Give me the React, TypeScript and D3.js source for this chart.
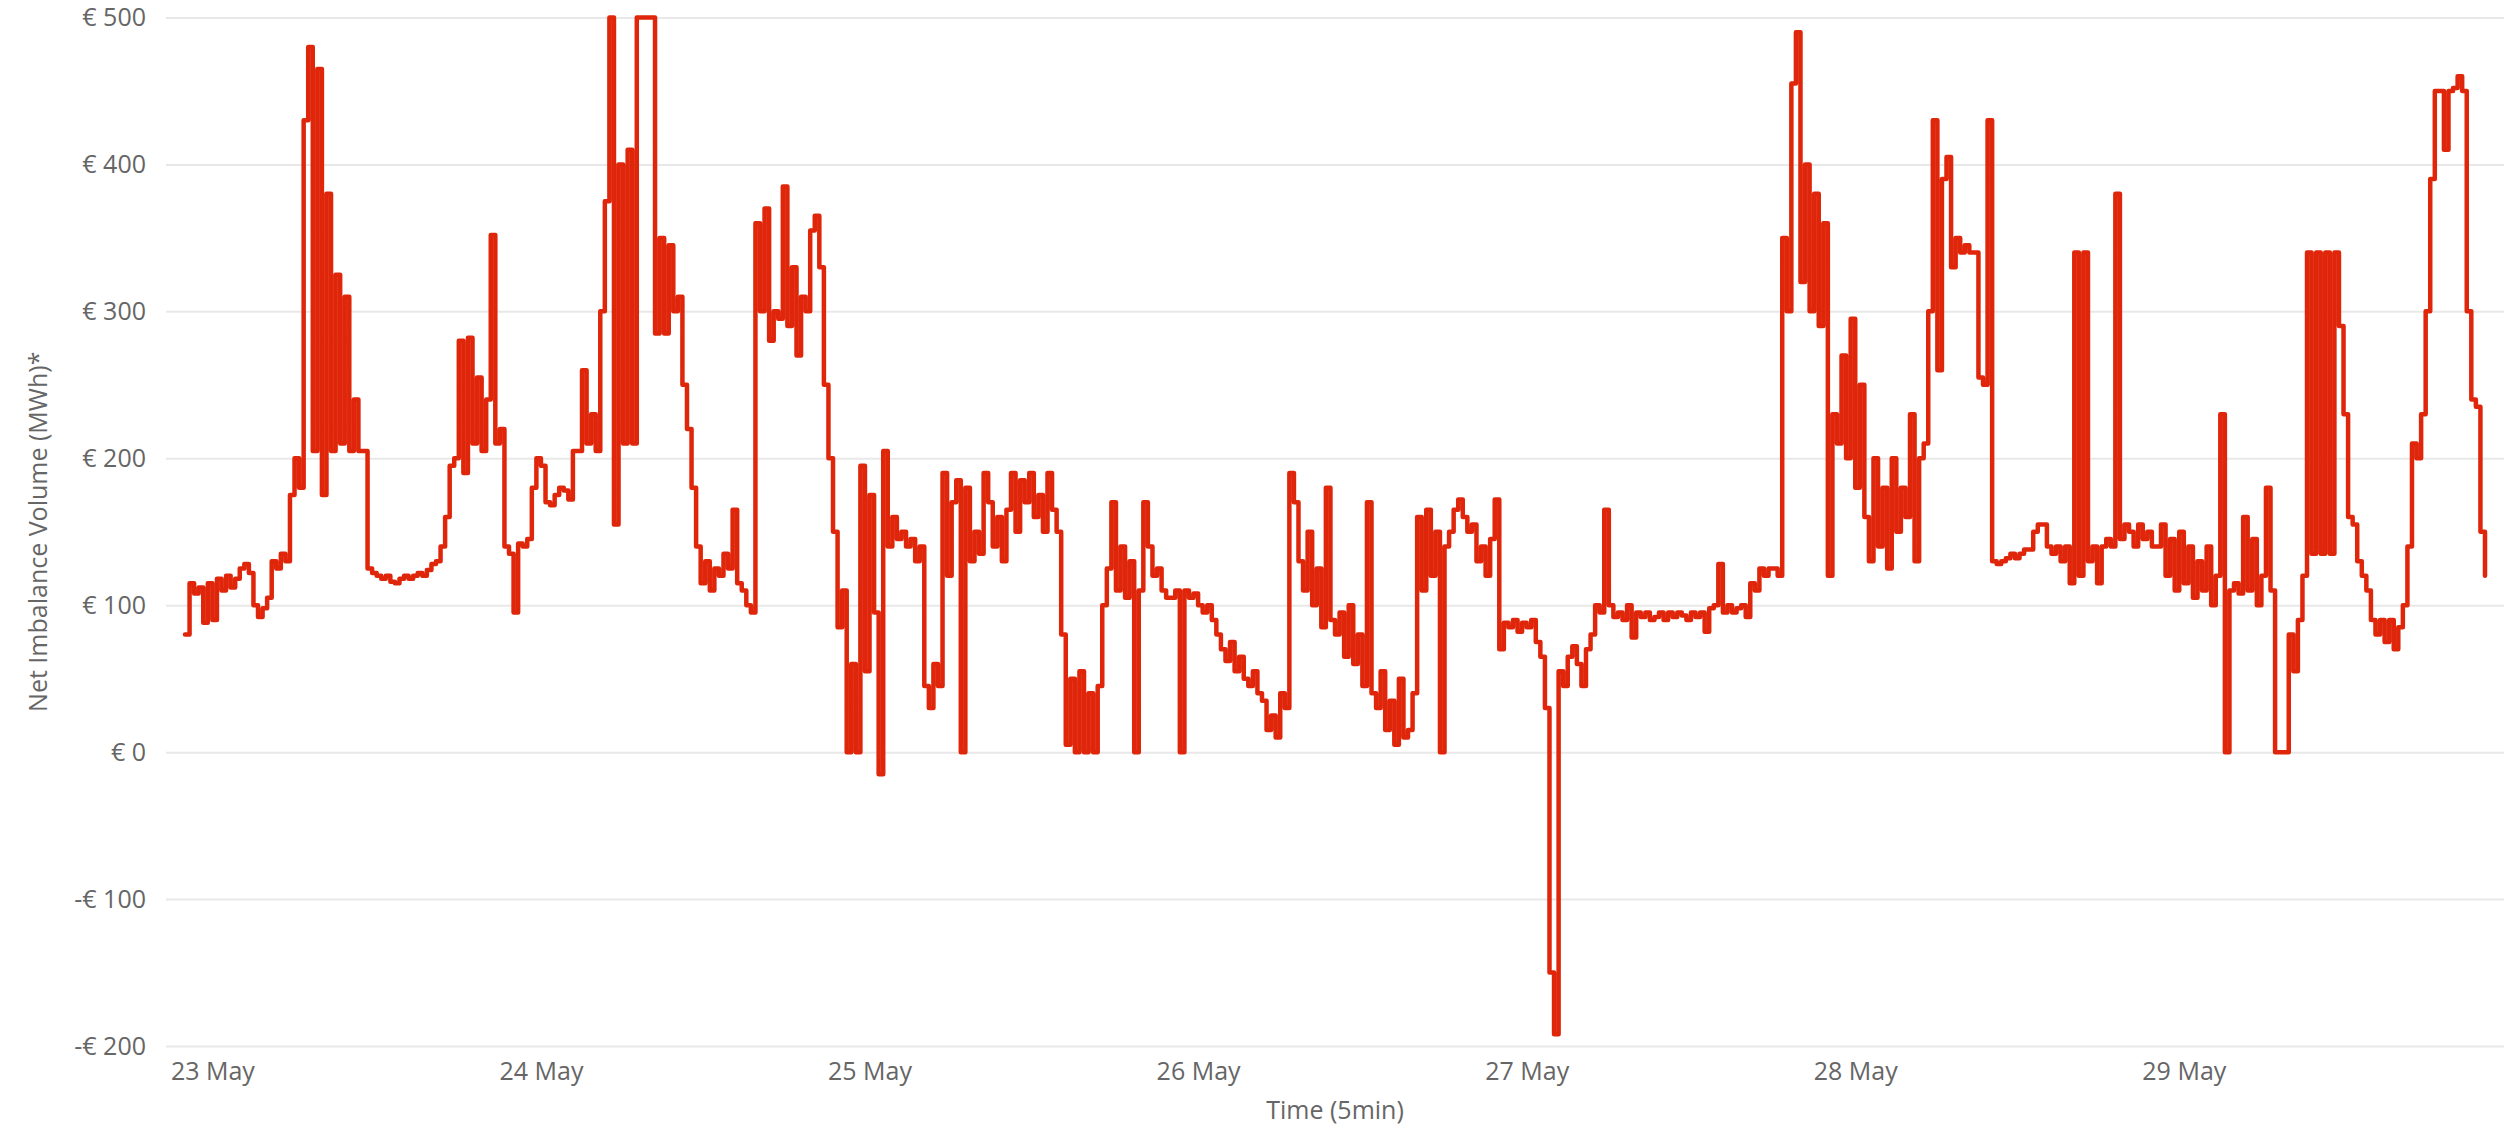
import React, { useEffect, useRef } from "react";
import * as d3 from "d3";

// imbalance price, one reading every 20 minutes
// each list starts at 22:00 the evening before the day it is named after
const may23 = [80, 115, 108, 112, 88, 115, 90, 118, 110, 120, 112, 118, 125, 128, 122, 100, 92, 98, 105, 130, 125, 135, 130, 175, 200, 180, 430, 480, 205, 465, 175, 380, 205, 325, 210, 310, 205, 240, 205, 205, 125, 122, 120, 118, 120, 116, 115, 118, 120, 118, 120, 122, 120, 124, 128, 130, 140, 160, 195, 200, 280, 190, 282, 210, 255, 205, 240, 352, 210, 220, 140, 135];
const may24 = [95, 142, 140, 145, 180, 200, 195, 170, 168, 175, 180, 178, 172, 205, 205, 260, 210, 230, 205, 300, 375, 500, 155, 400, 210, 410, 210, 500, 500, 500, 500, 285, 350, 285, 345, 300, 310, 250, 220, 180, 140, 115, 130, 110, 125, 120, 135, 125, 165, 115, 110, 100, 95, 360, 300, 370, 280, 300, 295, 385, 290, 330, 270, 310, 300, 355, 365, 330, 250, 200, 150, 85];
const may25 = [110, 0, 60, 0, 195, 55, 175, 95, -15, 205, 140, 160, 145, 150, 140, 145, 130, 140, 45, 30, 60, 45, 190, 120, 170, 185, 0, 180, 130, 150, 135, 190, 170, 140, 160, 130, 165, 190, 150, 185, 170, 190, 160, 175, 150, 190, 165, 150, 80, 5, 50, 0, 55, 0, 40, 0, 45, 100, 125, 170, 110, 140, 105, 130, 0, 110, 170, 140, 120, 125, 110, 105];
const may26 = [105, 110, 0, 110, 105, 108, 100, 95, 100, 90, 80, 70, 62, 75, 55, 65, 50, 45, 55, 40, 35, 15, 25, 10, 40, 30, 190, 170, 130, 110, 150, 100, 125, 85, 180, 90, 80, 95, 65, 100, 60, 80, 45, 170, 40, 30, 55, 15, 35, 5, 50, 10, 15, 40, 160, 110, 165, 120, 150, 0, 140, 150, 165, 172, 160, 150, 155, 130, 140, 120, 145, 172];
const may27 = [70, 88, 85, 90, 82, 88, 85, 90, 75, 65, 30, -150, -192, 55, 45, 65, 72, 60, 45, 70, 80, 100, 95, 165, 100, 92, 95, 90, 100, 78, 95, 92, 95, 90, 92, 95, 90, 95, 92, 95, 93, 90, 95, 92, 95, 82, 98, 100, 128, 95, 100, 95, 98, 100, 92, 115, 110, 125, 120, 125, 125, 120, 350, 300, 455, 490, 320, 400, 300, 380, 290, 360];
const may28 = [120, 230, 210, 270, 200, 295, 180, 250, 160, 130, 200, 140, 180, 125, 200, 150, 180, 160, 230, 130, 200, 210, 300, 430, 260, 390, 405, 330, 350, 340, 345, 340, 340, 255, 250, 430, 130, 128, 130, 132, 135, 132, 135, 138, 138, 150, 155, 155, 140, 135, 140, 130, 140, 115, 340, 120, 340, 130, 140, 115, 140, 145, 140, 380, 145, 155, 150, 140, 155, 145, 150, 140];
const may29 = [140, 155, 120, 145, 110, 150, 115, 140, 105, 130, 110, 140, 100, 120, 230, 0, 110, 115, 108, 160, 110, 145, 100, 120, 180, 110, 0, 0, 0, 80, 55, 90, 120, 340, 135, 340, 135, 340, 135, 340, 290, 230, 160, 155, 130, 120, 110, 90, 80, 90, 75, 90, 70, 85, 100, 140, 210, 200, 230, 300, 390, 450, 450, 410, 450, 452, 460, 450, 300, 240, 235, 150, 120];

const yTicks = [-200, -100, 0, 100, 200, 300, 400, 500];
const startTime = new Date(2023, 4, 22, 22, 0);
const stepMinutes = 20;

const font = "'Segoe UI', 'Open Sans', sans-serif";

export default function App() {
  const svgRef = useRef<SVGSVGElement>(null);

  useEffect(() => {
    const width = 2514,
      height = 1129;
    const margin = { top: 17.5, right: 10, bottom: 83, left: 166 };
    const innerW = width - margin.left - margin.right;
    const innerH = height - margin.top - margin.bottom;

    const values = [...may23, ...may24, ...may25, ...may26, ...may27, ...may28, ...may29];
    const data = values.map((v, i) => ({
      t: new Date(startTime.getTime() + i * stepMinutes * 60000),
      v,
    }));

    const svg = d3.select(svgRef.current);
    svg.selectAll("*").remove();

    const g = svg
      .append("g")
      .attr("transform", `translate(${margin.left},${margin.top})`);

    // a little padding each side, like the original
    const x = d3
      .scaleTime()
      .domain(d3.extent(data, (d) => d.t) as [Date, Date])
      .range([19, innerW - 19]);
    const y = d3.scaleLinear().domain([-200, 500]).range([innerH, 0]);

    const yAxis = g
      .append("g")
      .call(
        d3
          .axisLeft(y)
          .tickValues(yTicks)
          .tickSize(-innerW)
          .tickPadding(20)
          .tickFormat((d: any) => (d < 0 ? `-€ ${-d}` : `€ ${d}`))
      );
    yAxis.select(".domain").remove();
    yAxis.selectAll(".tick line").attr("stroke", "#e8e8e8").attr("stroke-width", 2);
    yAxis
      .selectAll(".tick text")
      .attr("fill", "#666666")
      .style("font-family", font)
      .style("font-size", "25px");

    const xAxis = g
      .append("g")
      .attr("transform", `translate(0,${innerH})`)
      .call(
        d3
          .axisBottom(x)
          .ticks(d3.timeDay.every(1))
          .tickSize(0)
          .tickFormat((d: any) => d3.timeFormat("%-d %b")(d))
      );
    xAxis.select(".domain").remove();
    xAxis
      .selectAll(".tick text")
      .attr("y", 34)
      .attr("dy", 0)
      .attr("fill", "#666666")
      .style("font-family", font)
      .style("font-size", "25px");

    const line = d3
      .line<{ t: Date; v: number }>()
      .x((d) => x(d.t))
      .y((d) => y(d.v))
      .curve(d3.curveStepAfter);

    g.append("path")
      .datum(data)
      .attr("fill", "none")
      .attr("stroke", "#E0260A")
      .attr("stroke-width", 4.5)
      .attr("stroke-linejoin", "round")
      .attr("stroke-linecap", "round")
      .attr("d", line);

    // axis titles
    g.append("text")
      .attr("transform", `translate(${38 - margin.left},${innerH / 2}) rotate(-90)`)
      .attr("text-anchor", "middle")
      .attr("dy", "0.35em")
      .attr("fill", "#666666")
      .style("font-family", font)
      .style("font-size", "25px")
      .text("Net Imbalance Volume (MWh)*");

    g.append("text")
      .attr("x", innerW / 2)
      .attr("y", innerH + 73)
      .attr("text-anchor", "middle")
      .attr("fill", "#666666")
      .style("font-family", font)
      .style("font-size", "25px")
      .text("Time (5min)");
  }, []);

  return (
    <div style={{ position: "absolute", left: 0, top: 0 }}>
      <svg ref={svgRef} width={2514} height={1129} style={{ display: "block", background: "#fff" }} />
    </div>
  );
}
